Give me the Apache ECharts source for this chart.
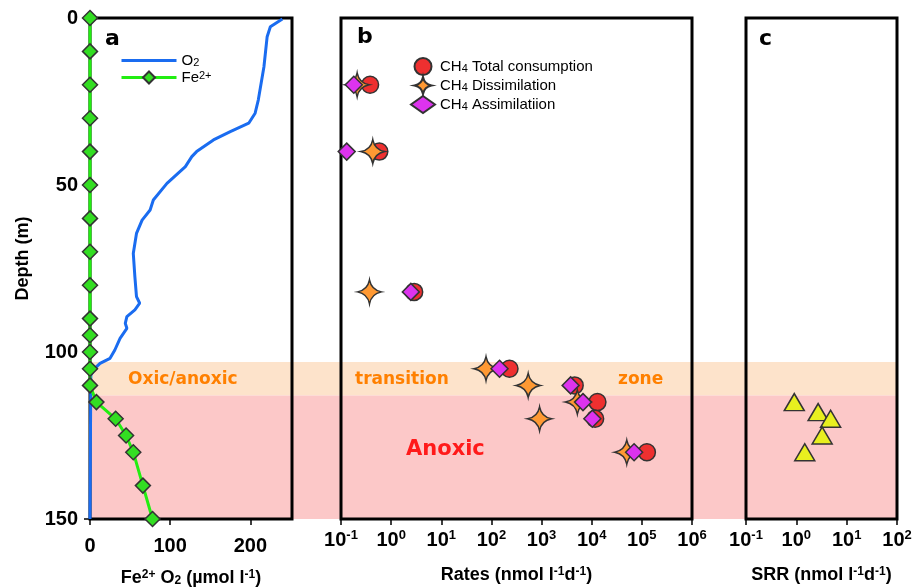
<!DOCTYPE html>
<html>
<head>
<meta charset="utf-8">
<title>Depth profiles</title>
<script src="https://cdn.jsdelivr.net/npm/echarts@6/dist/echarts.min.js"></script>
<style>
  html, body { margin: 0; padding: 0; background: #fff; }
  #main { width: 914px; height: 588px; }
</style>
</head>
<body>
<div id="main"></div>
<script>
// panel a: oxygen profile (umol/l) vs depth (m)
var o2Depth = [0.3, 2.6, 5.6, 14.6, 24.5, 28.5, 31.5, 34, 36.5, 40, 41.5, 44.5, 49.5, 54.5, 57.5, 60.5, 64.5, 70.5, 77.5, 83.4, 85.4, 87.4, 89.4, 91.4, 92.9, 95.9, 99.4, 101.9, 103.4, 104.9, 107, 150];
var o2Conc = [240, 225, 221, 217, 210, 206, 198, 175, 154, 133, 127, 119, 96, 79, 75, 65, 58, 54, 56, 58, 62, 56, 46, 44, 46, 37.5, 31, 25, 12.5, 6, 1, 0];
// panel a: Fe2+
var feDepth = [0, 10, 20, 30, 40, 50, 60, 70, 80, 90, 95, 100, 105, 110, 115, 120, 125, 130, 140, 150];
var feConc = [0, 0, 0, 0, 0, 0, 0, 0, 0, 0, 0, 0, 0, 0, 8, 32, 45, 54, 66, 78];
// panel b: CH4 rates (nmol l-1 d-1)
var ch4Depth = [20, 40, 82, 105, 110, 115, 120, 130];
var ch4Total = [0.38, 0.58, 2.88, 229, 4570, 13000, 11700, 126000];
var ch4Dissim = [0.21, 0.43, 0.37, 78, 541, 5170, 912, 50000];
var ch4Assim = [0.18, 0.13, 2.47, 145, 3800, 6700, 10300, 70000];
// panel c: sulfate reduction rates
var srrDepth = [115, 118, 120, 125, 130];
var srrRate = [0.91, 2.71, 4.8, 3.26, 1.47];
// zones (depth, m)
var oxicAnoxicTop = 103;
var anoxicTop = 113;
var anoxicBottom = 150;
// ticks
var depthTicks = [0, 50, 100, 150];
var concTicks = [0, 100, 200];

var FONT = '"Liberation Sans", Arial, sans-serif';
var FONT2 = '"DejaVu Sans", sans-serif';

function pairs(xs, ys) {
  var arr = [];
  for (var i = 0; i < xs.length; i++) {
    arr.push([xs[i], ys[i]]);
  }
  return arr;
}

var supRich = {
  b: { fontSize: 20, fontWeight: 'bold', fontFamily: FONT, color: '#000', lineHeight: 22 },
  sup: { fontSize: 13, fontWeight: 'bold', fontFamily: FONT, color: '#000', verticalAlign: 'top', lineHeight: 12 }
};
var nameRich = {
  sup: { fontSize: 12, fontWeight: 'bold', fontFamily: FONT, color: '#000', verticalAlign: 'top', lineHeight: 12 },
  sub: { fontSize: 12, fontWeight: 'bold', fontFamily: FONT, color: '#000', verticalAlign: 'bottom', lineHeight: 12 }
};
var legendRich = {
  sup: { fontSize: 11, fontFamily: FONT, color: '#000', verticalAlign: 'top', lineHeight: 10 },
  sub: { fontSize: 11, fontFamily: FONT, color: '#000', verticalAlign: 'bottom', lineHeight: 10 }
};
var legendNames = {
  'O2': 'O{sub|2}',
  'Fe2+': 'Fe{sup|2+}',
  'total': 'CH{sub|4} Total consumption',
  'dissim': 'CH{sub|4} Dissimilation',
  'assim': 'CH{sub|4} Assimilatiion'
};

function powLabel(v) {
  var p = Math.round(Math.log10(v));
  return '{b|10}{sup|' + p + '}';
}

var tickStyle = { color: '#000', width: 1.5 };
var starPath = 'path://M10,0 Q11.6,8.4 20,10 Q11.6,11.6 10,20 Q8.4,11.6 0,10 Q8.4,8.4 10,0 Z';
var border = { color: '#333', width: 1.5 };

function logAxis(grid, maxV, name) {
  return {
    gridIndex: grid,
    type: 'log',
    logBase: 10,
    min: 0.1,
    max: maxV,
    axisLine: { show: false, onZero: false },
    axisTick: { show: true, length: 6, lineStyle: tickStyle },
    minorTick: { show: false },
    splitLine: { show: false },
    axisLabel: { formatter: powLabel, margin: 10, rich: supRich },
    name: name,
    nameLocation: 'middle',
    nameGap: 47,
    nameTextStyle: { fontSize: 18, fontWeight: 'bold', fontFamily: FONT, color: '#000', rich: nameRich }
  };
}

function hiddenDepth(grid) {
  return { gridIndex: grid, type: 'value', inverse: true, min: 0, max: 150, show: false, splitLine: { show: false } };
}

function panelGrid(left, width) {
  return { left: left, top: 18, width: width, height: 501, show: true, borderColor: '#000', borderWidth: 3, z: 2, outerBoundsMode: 'none', containLabel: false };
}

var myChart = echarts.init(document.getElementById('main'));
var option = {
  animation: false,
  backgroundColor: '#fff',
  grid: [
    panelGrid(90, 202),
    panelGrid(341, 351),
    panelGrid(746, 151),
    { left: 90, top: 18, width: 807, height: 501, show: false, outerBoundsMode: 'none', containLabel: false }
  ],
  xAxis: [
    {
      gridIndex: 0,
      type: 'value',
      min: 0,
      max: 252,
      axisLine: { show: false, onZero: false },
      axisTick: { show: true, customValues: concTicks, length: 6, lineStyle: tickStyle },
      splitLine: { show: false },
      axisLabel: { customValues: concTicks, fontSize: 20, fontWeight: 'bold', fontFamily: FONT, color: '#000', margin: 17 },
      name: 'Fe{sup|2+} O{sub|2} (µmol l{sup|-1})',
      nameLocation: 'middle',
      nameGap: 50,
      nameTextStyle: { fontSize: 18, fontWeight: 'bold', fontFamily: FONT, color: '#000', rich: nameRich }
    },
    logAxis(1, 1e6, 'Rates (nmol l{sup|-1}d{sup|-1})'),
    logAxis(2, 1e2, 'SRR (nmol l{sup|-1}d{sup|-1})'),
    { gridIndex: 3, type: 'value', min: 0, max: 1, show: false, axisLine: { onZero: false }, splitLine: { show: false } }
  ],
  yAxis: [
    {
      gridIndex: 0,
      type: 'value',
      inverse: true,
      min: 0,
      max: 150,
      interval: 50,
      axisLine: { show: false, onZero: false },
      axisTick: { show: true, customValues: depthTicks, length: 6, lineStyle: tickStyle },
      splitLine: { show: false },
      axisLabel: { customValues: depthTicks, fontSize: 20, fontWeight: 'bold', fontFamily: FONT, color: '#000', margin: 12 },
      name: 'Depth (m)',
      nameLocation: 'middle',
      nameGap: 58,
      nameRotate: 90,
      nameTextStyle: { fontSize: 18, fontWeight: 'bold', fontFamily: FONT, color: '#000', padding: [0, 0, 0, 20] }
    },
    hiddenDepth(1),
    hiddenDepth(2),
    hiddenDepth(3)
  ],
  legend: [
    {
      left: 115,
      top: 48,
      orient: 'vertical',
      itemWidth: 55,
      itemHeight: 15,
      itemGap: 2,
      data: [
        { name: 'O2', itemStyle: { opacity: 0 }, lineStyle: { width: 3 } },
        { name: 'Fe2+', lineStyle: { width: 3 } }
      ],
      formatter: function (n) { return legendNames[n]; },
      textStyle: { fontSize: 15, fontFamily: FONT, color: '#000', lineHeight: 15, rich: legendRich }
    },
    {
      left: 405,
      top: 52,
      orient: 'vertical',
      itemWidth: 24,
      itemHeight: 17,
      itemGap: 0,
      data: ['total', 'dissim', 'assim'],
      formatter: function (n) { return legendNames[n]; },
      textStyle: { fontSize: 15, fontFamily: FONT, color: '#000', lineHeight: 15, rich: legendRich }
    }
  ],
  graphic: [
    { type: 'text', left: 105, top: 28, z: 10, style: { text: 'a', font: 'bold 22px ' + FONT2, fill: '#000' } },
    { type: 'text', left: 357, top: 26, z: 10, style: { text: 'b', font: 'bold 22px ' + FONT2, fill: '#000' } },
    { type: 'text', left: 759, top: 28, z: 10, style: { text: 'c', font: 'bold 22px ' + FONT2, fill: '#000' } },
    { type: 'text', left: 128, top: 371, z: 10, style: { text: 'Oxic/anoxic', font: 'bold 17px ' + FONT2, fill: '#ff8000' } },
    { type: 'text', left: 355, top: 371, z: 10, style: { text: 'transition', font: 'bold 17px ' + FONT2, fill: '#ff8000' } },
    { type: 'text', left: 618, top: 371, z: 10, style: { text: 'zone', font: 'bold 17px ' + FONT2, fill: '#ff8000' } },
    { type: 'text', left: 406, top: 439, z: 10, style: { text: 'Anoxic', font: 'bold 21px ' + FONT2, fill: '#ff1a1a' } }
  ],
  series: [
    {
      name: 'zones',
      type: 'line',
      xAxisIndex: 3,
      yAxisIndex: 3,
      data: [],
      silent: true,
      markArea: {
        silent: true,
        label: { show: false },
        data: [
          [{ yAxis: oxicAnoxicTop, itemStyle: { color: '#fde3cb' } }, { yAxis: anoxicTop }],
          [{ yAxis: anoxicTop, itemStyle: { color: '#fcc8c8' } }, { yAxis: anoxicBottom }]
        ]
      }
    },
    {
      name: 'O2',
      type: 'line',
      xAxisIndex: 0,
      yAxisIndex: 0,
      data: pairs(o2Conc, o2Depth),
      symbol: 'none',
      z: 4,
      lineStyle: { color: '#1a6cf0', width: 3 },
      itemStyle: { color: '#1a6cf0' }
    },
    {
      name: 'Fe2+',
      type: 'line',
      xAxisIndex: 0,
      yAxisIndex: 0,
      data: pairs(feConc, feDepth),
      symbol: 'diamond',
      symbolSize: 15,
      z: 5,
      lineStyle: { color: '#22ee11', width: 3 },
      itemStyle: { color: '#33dd22', borderColor: border.color, borderWidth: border.width }
    },
    {
      name: 'total',
      type: 'scatter',
      xAxisIndex: 1,
      yAxisIndex: 1,
      data: pairs(ch4Total, ch4Depth),
      symbol: 'circle',
      symbolSize: 17,
      z: 4,
      itemStyle: { color: '#ee3030', borderColor: border.color, borderWidth: border.width, opacity: 1 }
    },
    {
      name: 'dissim',
      type: 'scatter',
      xAxisIndex: 1,
      yAxisIndex: 1,
      data: pairs(ch4Dissim, ch4Depth),
      symbol: starPath,
      symbolSize: 24,
      z: 5,
      itemStyle: { color: '#ff9933', borderColor: border.color, borderWidth: border.width, opacity: 1 }
    },
    {
      name: 'assim',
      type: 'scatter',
      xAxisIndex: 1,
      yAxisIndex: 1,
      data: pairs(ch4Assim, ch4Depth),
      symbol: 'diamond',
      symbolSize: 17,
      z: 6,
      itemStyle: { color: '#dd33ee', borderColor: border.color, borderWidth: border.width, opacity: 1 }
    },
    {
      name: 'srr',
      type: 'scatter',
      xAxisIndex: 2,
      yAxisIndex: 2,
      data: pairs(srrRate, srrDepth),
      symbol: 'triangle',
      symbolSize: [20, 17],
      z: 4,
      itemStyle: { color: '#e8ef1f', borderColor: border.color, borderWidth: border.width, opacity: 1 }
    }
  ]
};
myChart.setOption(option);
</script>
</body>
</html>
